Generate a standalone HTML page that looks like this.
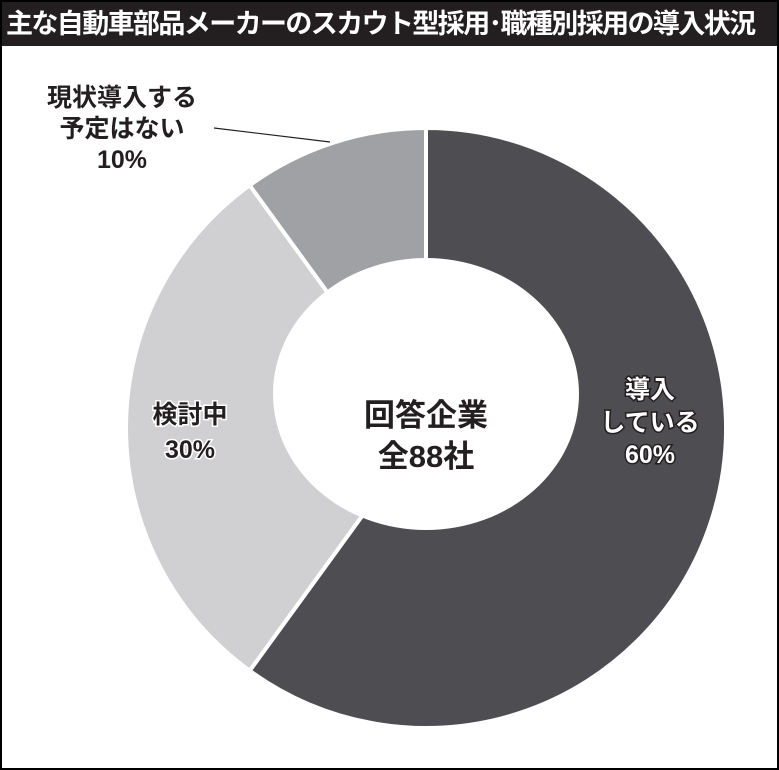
<!DOCTYPE html>
<html><head><meta charset="utf-8">
<style>
html,body{margin:0;padding:0;background:#fff}
#wrap{position:relative;width:779px;height:770px;box-sizing:border-box;border:2px solid #000;overflow:hidden;background:#fff}
#title{position:absolute;left:0;top:0;width:775px;height:44px;background:#231f20;color:#fff;font:bold 27px "Liberation Sans","Noto Sans CJK JP",sans-serif;line-height:44px;letter-spacing:-1.6px;white-space:nowrap;padding-left:4px;box-sizing:border-box}
svg{position:absolute;left:0;top:0}
text{font-family:"Liberation Sans","Noto Sans CJK JP",sans-serif;font-weight:bold}
</style></head><body>
<div id="wrap">
<div id="title">主な自動車部品メーカーのスカウト型採用･職種別採用の導入状況</div>
<svg id="chart" width="775" height="766"></svg>
</div>
<script>
const categories=["導入している","検討中","現状導入する予定はない"];
const values=[60,30,10];
const valueLabels=["60%","30%","10%"];
const colors=["#4e4d51","#d0d0d2","#a0a1a5"];
const svg=document.getElementById('chart');
const NS='http://www.w3.org/2000/svg';
const cx=424,cy=426,R=300;
const total=values.reduce((a,b)=>a+b,0);
function pt(a,r){return [cx+r*Math.sin(a),cy-r*Math.cos(a)];}
let acc=0;
values.forEach((v,i)=>{
  const a0=acc/total*2*Math.PI;acc+=v;const a1=acc/total*2*Math.PI;
  const p0=pt(a0,R),p1=pt(a1,R);
  const large=(a1-a0)>Math.PI?1:0;
  const p=document.createElementNS(NS,'path');
  p.setAttribute('d',`M${cx},${cy}L${p0[0]},${p0[1]}A${R},${R} 0 ${large} 1 ${p1[0]},${p1[1]}Z`);
  p.setAttribute('fill',colors[i]);p.setAttribute('stroke','#fff');p.setAttribute('stroke-width','4');
  
  
  svg.appendChild(p);
});
const hole=document.createElementNS(NS,'ellipse');
hole.setAttribute('cx',cx);hole.setAttribute('cy',cy-34);hole.setAttribute('rx',153);hole.setAttribute('ry',136);hole.setAttribute('fill','#fff');


svg.appendChild(hole);
function txt(x,y,s,size,fill,stroke,name){
  const t=document.createElementNS(NS,'text');
  t.setAttribute('x',x);t.setAttribute('y',y);t.setAttribute('text-anchor','middle');
  t.setAttribute('font-size',size);t.setAttribute('fill',fill);
  if(stroke){t.setAttribute('stroke',stroke);t.setAttribute('stroke-width','3');t.setAttribute('paint-order','stroke');}
  t.textContent=s;
  
  
  svg.appendChild(t);
}
txt(424,424,'回答企業',31,'#231f20',null,'center-label-line1');
txt(424,465,'全88社',31,'#231f20',null,'center-label-line2');
txt(648,396,'導入',25,'#fff','#231f20','label-adopted-1');
txt(648,429,'している',25,'#fff','#231f20','label-adopted-2');
txt(648,461,valueLabels[0],25,'#fff','#231f20','label-adopted-value');
txt(188,421,categories[1],25,'#231f20','#fff','label-considering');
txt(188,456,valueLabels[1],25,'#231f20','#fff','label-considering-value');
txt(120,104,'現状導入する',25,'#231f20',null,'label-no-plan-1');
txt(120,135,'予定はない',25,'#231f20',null,'label-no-plan-2');
txt(120,166,valueLabels[2],25,'#231f20',null,'label-no-plan-value');
const ln=document.createElementNS(NS,'line');
ln.setAttribute('x1',212);ln.setAttribute('y1',126);ln.setAttribute('x2',328);ln.setAttribute('y2',140);
ln.setAttribute('stroke','#231f20');ln.setAttribute('stroke-width','1.2');


svg.appendChild(ln);
</script>
</body></html>
